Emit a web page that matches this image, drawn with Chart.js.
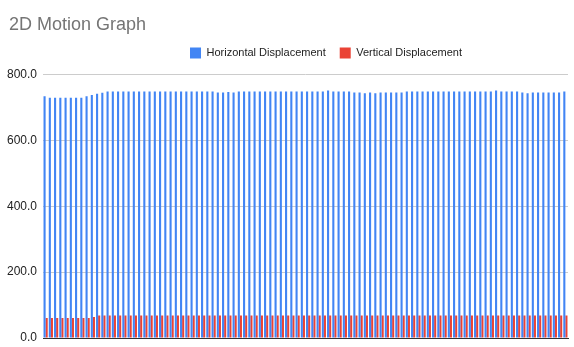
<!DOCTYPE html>
<html>
<head>
<meta charset="utf-8">
<script src="https://cdn.jsdelivr.net/npm/chart.js@4"></script>
<style>
  body { margin: 0; background: #fff; }
  #wrap { width: 574px; height: 347px; position: relative; }
</style>
</head>
<body>
<div id="wrap"><canvas id="motionChart"></canvas></div>
<script>
// Datos (100 muestras)
const horizontal = [
  734, 730, 730, 730, 730, 730, 730, 730, 734, 738,
  742, 745, 749, 749, 749, 749, 749, 749, 749, 749,
  749, 749, 749, 749, 749, 749, 749, 749, 749, 749,
  749, 749, 749, 746, 746, 747, 746, 749, 749, 749,
  749, 749, 749, 749, 749, 749, 749, 749, 749, 749,
  749, 749, 749, 749, 752, 749, 749, 749, 749, 746,
  746, 743, 746, 743, 746, 746, 746, 746, 746, 749,
  749, 749, 749, 749, 749, 749, 749, 749, 749, 749,
  749, 749, 749, 749, 749, 749, 752, 749, 749, 749,
  749, 746, 743, 746, 746, 746, 746, 746, 746, 749
];
const vertical = [
  61, 61, 61, 61, 61, 61, 61, 61, 61, 64,
  68, 68, 68, 68, 68, 68, 68, 68, 68, 68,
  68, 68, 68, 68, 68, 68, 68, 68, 68, 68,
  68, 68, 68, 68, 68, 68, 68, 68, 68, 68,
  68, 68, 68, 68, 68, 68, 68, 68, 68, 68,
  68, 68, 68, 68, 68, 68, 68, 68, 68, 68,
  68, 68, 68, 68, 68, 68, 68, 68, 68, 68,
  68, 68, 68, 68, 68, 68, 68, 68, 68, 68,
  68, 68, 68, 68, 68, 68, 68, 68, 68, 68,
  68, 68, 68, 68, 68, 68, 68, 68, 68, 68
];
const samples = horizontal.map((_, i) => String(i + 1));
const yTicks = [0, 200, 400, 600, 800];

const FONT = "'Liberation Sans', Arial, sans-serif";

// mueve titulo y leyenda a donde los pone Google Sheets
const boxShift = {
  id: 'boxShift',
  afterLayout(chart) {
    const t = chart.titleBlock;
    t.left += 9; t.right += 9;
    const lg = chart.legend;
    lg.left += 42; lg.right += 42;
    lg.top -= 6; lg.bottom -= 6;
  }
};

new Chart(document.getElementById('motionChart'), {
  type: 'bar',
  data: {
    labels: samples,
    datasets: [
      { label: 'Horizontal Displacement', data: horizontal, backgroundColor: '#4285F4' },
      { label: 'Vertical Displacement', data: vertical, backgroundColor: '#EA4335' }
    ]
  },
  options: {
    responsive: true,
    maintainAspectRatio: false,
    animation: false,
    categoryPercentage: 0.8,
    barPercentage: 1.0,
    layout: { padding: { left: 0, right: 6, bottom: 0 } },
    plugins: {
      tooltip: { enabled: false },
      title: {
        display: true,
        text: '2D Motion Graph',
        align: 'start',
        color: '#757575',
        font: { family: FONT, size: 18, weight: 'normal', lineHeight: 1.2 },
        padding: { top: 14, bottom: 4 }
      },
      legend: {
        display: true,
        position: 'top',
        align: 'center',
        labels: {
          boxWidth: 11,
          boxHeight: 11,
          padding: 14,
          color: '#222',
          font: { family: FONT, size: 11, lineHeight: 1.2 }
        }
      }
    },
    scales: {
      x: {
        afterFit: s => { s.height = 9; },
        ticks: { display: false },
        grid: { display: false, drawTicks: false },
        border: { display: true, color: '#333', width: 1 }
      },
      y: {
        min: 0,
        max: 800,
        afterFit: s => { s.width = 43; s.paddingBottom = 8; s.paddingTop = 8; },
        afterBuildTicks: s => { s.ticks = yTicks.map(v => ({ value: v })); },
        ticks: {
          padding: 6,
          color: '#222',
          font: { family: FONT, size: 12 },
          callback: v => Number(v).toFixed(1)
        },
        grid: { color: '#cccccc', drawTicks: false },
        border: { display: false }
      }
    }
  },
  plugins: [boxShift]
});
</script>
</body>
</html>
